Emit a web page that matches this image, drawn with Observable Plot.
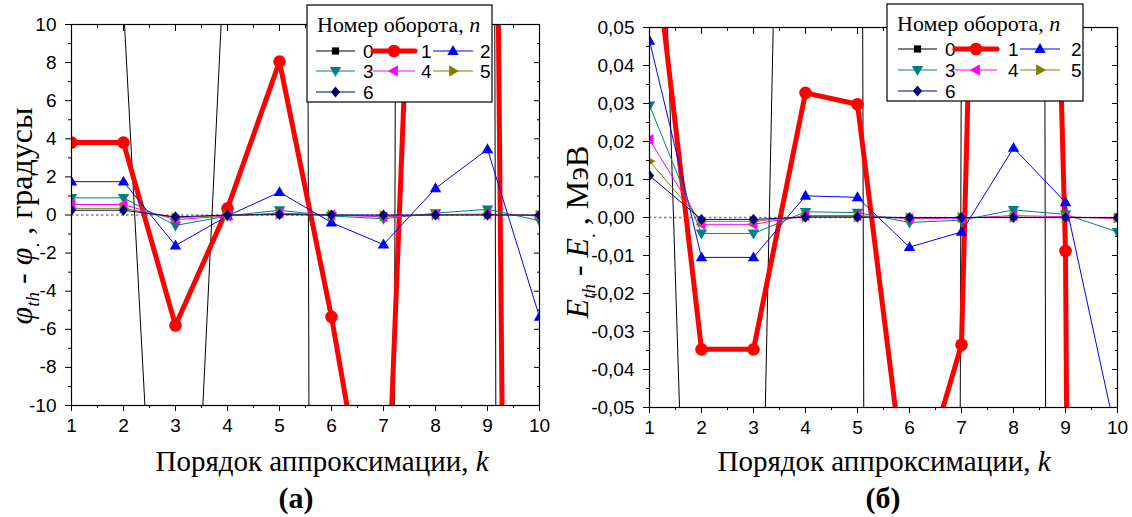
<!DOCTYPE html>
<html><head><meta charset="utf-8">
<script src="https://cdn.jsdelivr.net/npm/d3@7"></script>
<script src="https://cdn.jsdelivr.net/npm/@observablehq/plot@0.6"></script>
<style>
body{margin:0;background:#fff;}
#wrap{position:relative;width:1132px;height:517px;overflow:hidden;background:#fff;}
#wrap svg{position:absolute;top:0;overflow:visible;}
</style></head><body><div id="wrap"></div>
<script>
// ---------- data ----------
const kOrder = [1, 2, 3, 4, 5, 6, 7, 8, 9, 10];
const kHalf = [1.5, 2.5, 3.5, 4.5, 5.5, 6.5, 7.5, 8.5, 9.5];
const turnNumbers = [0, 1, 2, 3, 4, 5, 6];

// panel (а): φth − φ, degrees (values off-scale estimated from the clipped segments)
const phiN0 = [25, 11, -40, 17, 556, -444, -220, 780, 150, -850];
const phiN1 = [3.8, 3.8, -5.8, 0.35, 8.05, -5.35, -21, 48, 70, -216];
const phiN2 = [1.75, 1.75, -1.6, -0.05, 1.2, -0.4, -1.55, 1.4, 3.45, -5.35];
const phiN3 = [0.9, 0.9, -0.55, -0.05, 0.25, -0.05, -0.2, 0.1, 0.3, -0.3];
const phiN4 = [0.55, 0.55, -0.25, -0.05, 0.1, 0, -0.1, 0.02, 0.05, -0.05];
const phiN5 = [0.35, 0.35, -0.15, -0.02, 0.05, 0, -0.05, 0.01, 0.02, -0.02];
const phiN6 = [0.25, 0.25, -0.1, 0, 0.02, 0, 0, 0, 0, 0];

// panel (б): Eth − E, MeV
const eN0 = [0.2, -0.233, -0.2, 0.46, 0.55, -4.45, 0.06, 3.9, -2.5, -3];
const eN1 = [0.083, -0.0347, -0.0347, 0.0328, 0.0298, -0.08, -0.0335, 0.5, -0.0088, -2];
const eN2 = [0.0465, -0.0105, -0.0105, 0.0057, 0.0053, -0.0078, -0.0038, 0.0183, 0.004, -0.059];
const eN3 = [0.0295, -0.0042, -0.0042, 0.0015, 0.0013, -0.0013, -0.0007, 0.002, 0.0008, -0.0038];
const eN4 = [0.0205, -0.0018, -0.0018, 0.0005, 0.0005, -0.0003, -0.0002, 0.0005, 0.0002, -0.0003];
const eN5 = [0.0148, -0.001, -0.001, 0.0002, 0.0002, -0.0001, 0, 0.0001, 0, -0.0001];
const eN6 = [0.011, -0.0005, -0.0005, 0.0001, 0.0001, 0, 0, 0, 0, 0];

const yTicksA = [-10, -8, -6, -4, -2, 0, 2, 4, 6, 8, 10];
const yMinorA = [-9, -7, -5, -3, -1, 1, 3, 5, 7, 9];
const yLabelsA = ["-10", "-8", "-6", "-4", "-2", "0", "2", "4", "6", "8", "10"];
const yTicksB = [-0.05, -0.04, -0.03, -0.02, -0.01, 0, 0.01, 0.02, 0.03, 0.04, 0.05];
const yMinorB = [-0.045, -0.035, -0.025, -0.015, -0.005, 0.005, 0.015, 0.025, 0.035, 0.045];
const yLabelsB = ["-0,05", "-0,04", "-0,03", "-0,02", "-0,01", "0,00", "0,01", "0,02", "0,03", "0,04", "0,05"];
const kLabels = ["1", "2", "3", "4", "5", "6", "7", "8", "9", "10"];

// ---------- styles ----------
const colors = ["#000000", "#ff0000", "#0000ff", "#008080", "#ff00ff", "#808000", "#000080"];
const widths = [1, 5, 1, 1, 1, 1, 1];
const radii = [5, 6.3, 6, 6, 6, 6, 5.6];
const poly = (pts) => ({draw(c, s) { const r = Math.sqrt(s / Math.PI); c.moveTo(pts[0][0]*r, pts[0][1]*r); for (let i = 1; i < pts.length; i++) c.lineTo(pts[i][0]*r, pts[i][1]*r); c.closePath(); }});
const symSquare = poly([[-0.72,-0.72],[0.72,-0.72],[0.72,0.72],[-0.72,0.72]]);
const symCircle = {draw(c, s) { const r = Math.sqrt(s / Math.PI); c.moveTo(r, 0); c.arc(0, 0, r, 0, 2*Math.PI); }};
const symUp = poly([[0,-1],[0.95,0.65],[-0.95,0.65]]);
const symDown = poly([[0,1],[0.95,-0.65],[-0.95,-0.65]]);
const symLeft = poly([[-1,0],[0.65,0.95],[0.65,-0.95]]);
const symRight = poly([[1,0],[-0.65,0.95],[-0.65,-0.95]]);
const symDiamond = poly([[0,-1],[0.82,0],[0,1],[-0.82,0]]);
const symbols = [symSquare, symCircle, symUp, symDown, symLeft, symRight, symDiamond];

const SERIF = "'Liberation Serif','Times New Roman',serif";
const SANS = "'Liberation Sans',Arial,sans-serif";

function buildPanel(o) {
  const rows = o.series.flatMap((vals, n) => kOrder.map((k, i) => ({k, v: vals[i], n})));
  const marks = [Plot.ruleY([0], {stroke: "#808080", strokeWidth: 1.3, strokeDasharray: "2.5,2.5"})];
  turnNumbers.forEach((n) => {
    const d = rows.filter((r) => r.n === n);
    marks.push(Plot.line(d, {x: "k", y: "v", stroke: colors[n], strokeWidth: widths[n], strokeLinejoin: "round", clip: true}));
    marks.push(Plot.dot(d, {x: "k", y: "v", symbol: symbols[n], r: radii[n], fill: colors[n], stroke: "none", clip: true}));
  });
  const fmtY = (d) => o.yLabels[o.yTicks.findIndex((t) => Math.abs(t - d) < 1e-9)];
  const fmtX = (d) => kLabels[kOrder.indexOf(d)];
  const blank = () => "";
  marks.push(
    Plot.frame({stroke: "black", strokeWidth: 1.2}),
    Plot.axisX({ticks: kOrder, tickSize: 6, tickPadding: 7, tickFormat: fmtX, label: null, fontSize: 19}),
    Plot.axisX({ticks: kHalf, tickSize: 3, tickFormat: blank, label: null}),
    Plot.axisX({anchor: "top", ticks: kOrder, tickSize: -6, tickFormat: blank, label: null}),
    Plot.axisX({anchor: "top", ticks: kHalf, tickSize: -3, tickFormat: blank, label: null}),
    Plot.axisY({ticks: o.yTicks, tickSize: 6, tickPadding: 9, tickFormat: fmtY, label: null, fontSize: 19}),
    Plot.axisY({ticks: o.yMinor, tickSize: 3, tickFormat: blank, label: null}),
    Plot.axisY({anchor: "right", ticks: o.yTicks, tickSize: -6, tickFormat: blank, label: null}),
    Plot.axisY({anchor: "right", ticks: o.yMinor, tickSize: -3, tickFormat: blank, label: null})
  );
  const el = Plot.plot({
    width: o.width, height: 517,
    marginLeft: o.ml, marginRight: o.mr, marginTop: o.mt, marginBottom: 517 - o.yb,
    x: {domain: [1, 10]},
    y: {domain: o.ydomain},
    style: {fontFamily: SANS, fontSize: "19px", color: "black", background: "transparent", overflow: "visible"},
    marks
  });
  el.style.left = o.left + "px";
  const svg = d3.select(el);

  // y-axis title
  const yt = svg.append("text")
    .attr("transform", `translate(${o.ylx},${o.yly}) rotate(-90)`)
    .attr("text-anchor", "middle").attr("fill", "black")
    .style("font-family", SERIF).style("font-size", "32px");
  yt.append("tspan").attr("font-style", "italic").text(o.sym);
  yt.append("tspan").attr("font-style", "italic").attr("font-size", "19px").attr("dy", 7).text("th");
  yt.append("tspan").attr("dy", -7).text(" - ");
  yt.append("tspan").attr("font-style", "italic").text(o.sym);
  yt.append("tspan").attr("font-size", "19px").attr("dy", 7).text(".");
  yt.append("tspan").attr("dy", -7).text(" , " + o.unit);

  // x-axis title
  const xt = svg.append("text").attr("x", o.xlx).attr("y", o.xly)
    .attr("text-anchor", "middle").attr("fill", "black")
    .style("font-family", SERIF).style("font-size", "29px");
  xt.append("tspan").text("Порядок аппроксимации, ");
  xt.append("tspan").attr("font-style", "italic").text("k");

  // caption
  svg.append("text").attr("x", o.capx).attr("y", 508)
    .attr("text-anchor", "middle").attr("fill", "black")
    .style("font-family", SERIF).style("font-size", "30px").style("font-weight", "bold")
    .text(o.caption);

  // legend
  const L = o.leg;
  const g = svg.append("g").attr("text-anchor", "start");
  g.append("rect").attr("x", L.x).attr("y", L.y).attr("width", L.w).attr("height", L.h)
    .attr("fill", "white").attr("stroke", "black").attr("stroke-width", 1.2);
  const lt = g.append("text").attr("x", L.x + 10).attr("y", L.y + 27).attr("fill", "black")
    .attr("text-anchor", "start")
    .style("font-family", SERIF).style("font-size", "22px");
  lt.append("tspan").text("Номер оборота, ");
  lt.append("tspan").attr("font-style", "italic").text("n");
  turnNumbers.forEach((n) => {
    const row = n <= 2 ? 0 : (n <= 5 ? 1 : 2);
    const col = n <= 2 ? n : (n <= 5 ? n - 3 : 0);
    const sx = L.x + L.cols[col];
    const sl = L.lens[col];
    const cy = L.y + L.rows[row];
    g.append("line").attr("x1", sx).attr("x2", sx + sl).attr("y1", cy).attr("y2", cy)
      .attr("stroke", colors[n]).attr("stroke-width", widths[n]).attr("stroke-linecap", n === 1 ? "round" : "butt");
    g.append("path").attr("transform", `translate(${sx + sl / 2},${cy})`)
      .attr("d", d3.symbol(symbols[n], radii[n] * radii[n] * Math.PI)()).attr("fill", colors[n]);
    g.append("text").attr("x", sx + L.lab[col]).attr("y", cy).attr("dy", "0.36em").attr("fill", "black")
      .attr("text-anchor", "start")
      .style("font-family", SANS).style("font-size", "19px").text(String(n));
  });
  document.getElementById("wrap").appendChild(el);
}

buildPanel({
  left: 0, width: 560, ml: 71, mr: 21, mt: 24, yb: 405,
  ydomain: [-10, 10], yTicks: yTicksA, yMinor: yMinorA, yLabels: yLabelsA,
  series: [phiN0, phiN1, phiN2, phiN3, phiN4, phiN5, phiN6],
  sym: "φ", unit: "градусы", ylx: 32, yly: 216,
  xlx: 322, xly: 471, capx: 296, caption: "(а)",
  leg: {x: 307, y: 5, w: 185, h: 97, cols: [9, 66, 126], lens: [39, 42, 40], lab: [47, 48, 47], rows: [46, 66, 87]}
});
buildPanel({
  left: 560, width: 572, ml: 89, mr: 15, mt: 27, yb: 407,
  ydomain: [-0.05, 0.05], yTicks: yTicksB, yMinor: yMinorB, yLabels: yLabelsB,
  sym: "E", unit: "МэВ", ylx: 28, yly: 232,
  series: [eN0, eN1, eN2, eN3, eN4, eN5, eN6],
  xlx: 324, xly: 471, capx: 323, caption: "(б)",
  leg: {x: 327, y: 4, w: 196, h: 97, cols: [11, 68, 133], lens: [39, 42, 40], lab: [47, 53, 51], rows: [45, 66, 87]}
});
</script></body></html>
